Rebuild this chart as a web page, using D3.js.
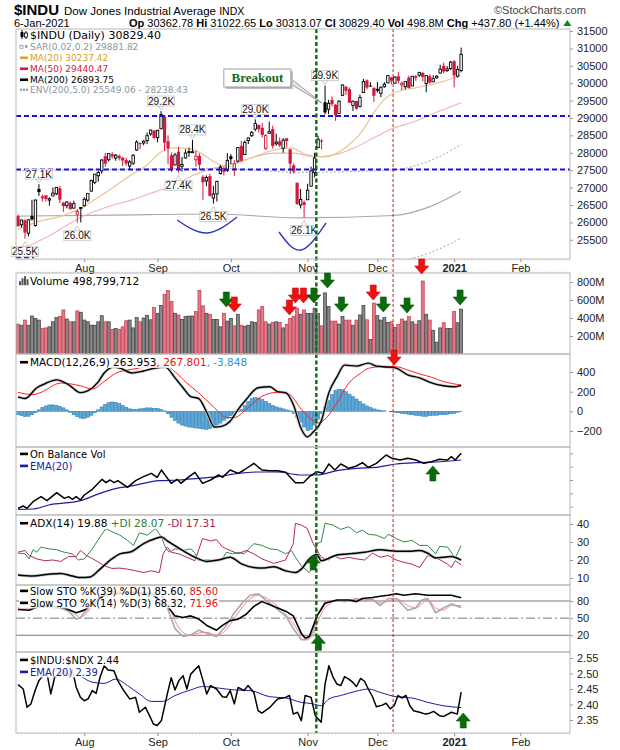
<!DOCTYPE html>
<html><head><meta charset="utf-8">
<script src="https://cdn.jsdelivr.net/npm/d3@7/dist/d3.min.js"></script>
<style>
html,body{margin:0;padding:0;background:#fff;}
svg{display:block;}
text{white-space:pre;}
</style></head>
<body>
<svg id="chart" width="620" height="750"></svg>
<script>
// ================= DATA =================
const monthDays = [
  ["2020-07",[7,8,9,10,13,14,15,16,17,20,21,22,23,24,27,28,29,30,31]],
  ["2020-08",[3,4,5,6,7,10,11,12,13,14,17,18,19,20,21,24,25,26,27,28,31]],
  ["2020-09",[1,2,3,4,8,9,10,11,14,15,16,17,18,21,22,23,24,25,28,29,30]],
  ["2020-10",[1,2,5,6,7,8,9,12,13,14,15,16,19,20,21,22,23,26,27,28,29,30]],
  ["2020-11",[2,3,4,5,6,9,10,11,12,13,16,17,18,19,20,23,24,25,27,30]],
  ["2020-12",[1,2,3,4,7,8,9,10,11,14,15,16,17,18,21,22,23,24,28,29,30,31]],
  ["2021-01",[4,5,6]]
];
const dates = monthDays.flatMap(([m,ds])=>ds.map(d=>m+"-"+String(d).padStart(2,"0")));

const opens = [26180,25930,26060,25690,26180,25910,26960,26720,26780,26640,26760,26820,26980,26560,26480,26560,26410,26240,26420,
26480,26640,26900,27150,27340,27480,27900,27800,27960,27850,27910,27860,27790,27620,27700,28080,28280,28280,28350,28540,28640,
28440,28690,29040,28330,27930,27650,28030,27610,27850,28050,28030,27800,27910,27310,27190,27330,26700,26820,27400,27560,27500,
27900,27540,27760,28200,27950,28350,28490,28680,28800,28720,28130,28560,28680,28260,28330,28130,28420,28100,27640,27140,26500,26580,
26650,27040,27430,28150,28350,29450,29250,29520,29380,29130,29650,29900,29830,29360,29490,29330,29730,30080,29930,29870,
29800,29710,29900,30010,30170,30000,30200,29950,29900,30160,29920,30200,30230,30300,29990,30200,30040,30150,30290,30500,30360,30420,
30630,30200,30362.78];
const highs = [26230,26080,26090,26090,26650,26660,27100,26800,26780,26720,27000,27010,27050,26590,26610,26600,26620,26370,26440,
26720,26830,27230,27390,27480,27820,28000,27990,28020,27960,27950,27880,27860,27790,27960,28360,28300,28360,28580,28660,28650,
28660,29200,29040,28500,28010,28000,28170,27880,28100,28150,28370,28060,27980,27360,27350,27400,27050,27200,27650,27600,27990,
27960,27790,28160,28350,28350,28440,28630,28960,28810,28850,28530,28900,28780,28550,28440,28420,28420,28110,27690,27140,26960,26630,
27110,27600,28000,28490,28400,29930,29520,29620,29400,29510,29960,29920,29880,29500,29490,29670,30120,30110,30030,29870,
30030,29900,30030,30220,30170,30200,30320,30050,30060,30210,30200,30230,30330,30310,30230,30250,30230,30230,30530,30590,30490,30640,
30670,30500,31022.65];
const lows = [25880,25850,25530,25600,26050,25880,26760,26600,26600,26480,26760,26780,26560,26300,26400,26370,26400,25990,26000,
26450,26580,26880,27100,27170,27400,27600,27750,27830,27770,27780,27620,27630,27530,27650,28050,28100,28220,28250,28490,28400,
28300,28680,28050,27670,27450,27640,27430,27460,27840,27880,28000,27600,27500,26650,27040,26740,26540,26600,27380,27350,27450,
27670,27340,27720,27740,27940,28250,28460,28620,28580,28440,28080,28560,28120,28200,28170,28000,28150,27400,27400,26520,26400,26140,
26650,27040,27290,28150,28100,29100,29110,29330,28920,29120,29650,29660,29430,29200,29240,29300,29730,29820,29900,29460,
29730,29600,29870,30000,29960,29990,29990,29800,29820,29850,29920,30070,30180,30050,29740,29990,30040,30140,30280,30280,30330,30380,
29880,30160,30313.07];
const closes = [25890,26067,25706,26075,26085,26642,26870,26734,26672,26680,26840,27005,26652,26469,26584,26379,26539,26314,26428,
26664,26828,27201,27386,27433,27791,27687,27977,27896,27931,27844,27778,27692,27739,27930,28308,28249,28332,28492,28654,28430,
28645,29100,28292,28133,27501,27940,27535,27666,27993,27995,28032,27902,27657,27148,27288,26763,26815,27174,27584,27452,27782,
27817,27683,28149,27773,28303,28426,28587,28838,28680,28514,28494,28606,28196,28309,28211,28364,28336,27686,27464,26520,26660,26502,
26925,27481,27848,28390,28323,29158,29421,29398,29080,29480,29950,29784,29438,29483,29263,29591,30046,29873,29910,29638,
29824,29884,29970,30218,30070,30174,30068,29999,30046,29861,30200,30155,30304,30179,30216,30016,30129,30200,30404,30336,30409,30606,
30224,30391.60,30829.40];
// volume in millions of shares
const volumesM = [332,320,377,320,422,396,377,283,290,302,358,404,415,490,389,358,358,479,464,
377,358,320,320,358,426,358,358,272,283,275,302,370,377,290,404,358,400,430,380,517,
450,540,660,706,585,453,434,385,415,422,422,472,706,536,453,442,385,385,302,453,366,
396,313,442,320,309,320,358,351,490,528,358,332,351,358,351,290,328,396,420,509,442,490,
449,449,509,449,313,679,528,366,366,332,415,377,377,320,377,434,540,380,162,566,
426,377,404,351,358,294,328,389,366,415,358,332,370,811,442,377,264,132,290,347,283,283,
472,347,498.8];

// moving averages (by trading-day index)
const ma20Idx = [0,4.6,13.2,18.1,21.8,27.5,32.4,37,41,44.7,49.6,52.4,56.2,59.9,63.9,67.6,73.4,78.2,82.8,87.7,91.4,95.4,98.3,101.2,104,107.7,113.5,121.2,127];
const ma20Val = [25800,25980,26210,26410,26640,27020,27360,27650,28020,28140,28110,27990,27740,27590,27740,27880,28080,28140,27940,27880,27990,28280,28570,29030,29430,29720,29860,30030,30237];
const ma50Idx = [0,2.6,8.3,18.1,25.5,32.4,39,44.7,50.4,56.2,61.9,67.6,73.4,79.1,84.8,90.5,96.3,102,107.7,113.5,120.1,127];
const ma50Val = [25200,25300,25580,26150,26440,26640,26870,27070,27360,27560,27700,27880,27990,27990,27880,27940,28140,28430,28710,28890,29170,29440];
const ma200Idx = [0,27.5,56.2,80.8,107.7,118.3,127];
const ma200Val = [26180,26210,26240,26130,26200,26460,26894];
const envPct = 5.0;

// MACD (12,26,9)
const macdIdx = [0,2,5.4,7.7,11.1,14.5,17.9,20.1,23,24.7,27.5,29.2,32.6,36,39.4,42.2,45,47.3,49.5,51.8,54.1,56.3,58.6,60.8,63.1,65.4,68.8,72.2,74.4,76.7,78.9,81.2,82.9,84.6,86.9,89.1,91.4,93.6,97,100.4,102.7,106.1,108.4,111.7,115.1,118.5,121.9,125.3,127];
const macdVal = [147,130,240,280,320,270,190,210,300,390,450,440,390,410,440,450,340,240,150,130,-10,-160,-150,-100,20,120,240,250,200,190,70,-180,-260,-210,-100,190,350,470,460,490,460,450,440,370,340,290,260,250,264];
const signalIdx = [0,4.3,6.6,12.2,17.9,21.3,24.7,28,32.6,37.1,42.2,45,48.4,51.8,56.3,59.7,62,65.4,69.9,74.4,77.8,81.2,84.6,85.7,88,91.4,94.8,98.2,100.4,103.8,108.4,111.7,115.1,118.5,121.9,127];
const signalVal = [193,170,193,287,260,227,303,387,427,453,470,403,287,187,37,-63,-63,20,153,193,170,20,-97,-120,-80,87,287,387,437,453,453,420,380,347,303,268];
const macdHist = [-35,-45,-55,-50,-35,-15,
15,40,55,65,65,60,50,35,
15,-10,-35,-55,-70,-72,-60,-40,-15,
15,45,70,88,95,92,80,60,40,
25,20,20,25,30,35,35,30,30,20,5,
-25,-60,-95,-120,-140,-150,-160,-165,-170,-175,-180,-185,-175,-160,
-140,-120,-95,-70,-45,-20,-5,
20,60,100,130,140,135,120,100,80,60,
45,35,25,15,5,
-20,-60,-110,-160,-195,-185,-140,-80,-20,40,
110,170,215,225,220,200,175,150,
125,100,75,55,40,25,15,10,
5,0,-5,-10,-15,-20,
-25,-30,-35,-40,-45,-50,-50,-45,-40,-40,-35,-35,-30,-25,-20,-10,-4];

// On Balance Volume (relative units) and its EMA(20)
const obvIdx = [0,1.5,2.6,4.3,6.6,8.3,11.1,13.3,14.5,15.6,16.7,17.9,19,21.3,24.1,25.2,26.4,27.5,28.6,31.4,33.7,36,38.2,39.9,41.1,43.9,45.6,46.7,48.4,50.7,52.9,55.2,57.5,58.6,60.8,63.1,64.8,67.6,69.9,72.2,74.4,76.7,79.5,81.8,83.5,85.7,87.4,89.1,90.8,92.5,94.8,97,98.7,100.4,102.7,105.5,107.2,109.5,111.7,114,116.3,118.5,120.8,123.1,124.2,125.3,127];
const obvVal = [15,22,15,35,50,38,62,45,50,42,50,40,55,72,102,92,100,92,98,78,98,110,120,108,130,90,102,90,105,123,90,100,115,108,130,120,130,150,130,128,128,123,92,92,110,125,120,148,130,148,135,142,152,138,150,175,165,160,165,160,150,155,162,160,170,160,180];
const obvEmaIdx = [0,4.3,8.8,17.9,23.5,29.2,31.4,40.5,46.1,51.8,57.5,63.1,68.8,74.4,81.2,85.7,91.4,97,102.7,108.4,114,119.7,127];
const obvEmaVal = [12,13,25,38,60,77,80,98,100,105,110,120,124,124,115,115,128,135,138,148,152,154,160];
const obvTicks = [20,60,100,140,180];

// ADX(14), +DI, -DI
const adxIdx = [0,4.3,8.8,12.2,15.6,17.9,20.7,23.5,26.9,29.2,32.6,36,39.4,41.1,42.8,46.1,50.7,54.1,57.5,60.8,64.2,67.6,69.9,73.3,76.7,79.5,81.2,83.5,85.7,86.9,91.4,94.8,99.3,103.8,108.4,112.9,115.1,117.4,119.7,121.9,124.2,127];
const adxVal = [11.7,11.1,12.1,12.5,11.1,10.2,10.6,14.9,20.6,23.4,24.7,29.1,31.9,32.8,30.6,26.6,21.5,19.2,20,21.5,17.7,15.8,15.5,16.2,14,13,14.9,20.6,23,19.6,22.8,23.4,24.3,25.7,24.9,24.9,25.3,23.8,21.1,21.5,21.9,19.88];
const pdiIdx = [0,2,3.2,4.3,5.4,6.6,8.8,11.1,13.3,15.6,17.3,19,21.3,23.5,25.2,26.9,29.2,31.4,33.1,34.8,37.1,39.4,41.1,42.2,43.3,45,47.3,49.5,50.7,51.8,54.1,56.9,58.6,59.7,61.4,63.1,64.8,67.6,69.9,72.2,74.4,76.7,78.4,79.5,81.2,83.5,84.6,85.7,86.9,88,90.3,92.5,94.8,97,98.7,100.4,102.7,105,106.1,108.4,110.6,112.9,115.1,117.4,119.7,120.8,123.1,125.3,127];
const pdiVal = [23.8,23.4,20.6,25.7,24.3,27.2,26.2,25.7,24.3,23.4,20,20.6,26.2,32.8,37.5,35.7,33.8,30.9,28.1,35.1,33.8,37.5,32.8,27.2,24.3,26.2,25.3,26.2,23.8,19.6,20,19.6,20.6,24.3,23.4,24.3,23.4,29.1,28.1,26.2,25.7,23.4,25.3,21.5,16.8,13,16.8,29.1,30,40.4,39.4,37,38.5,35.1,36.6,34.3,33.8,31.9,34.3,31.9,30,30.9,28.1,28.1,23.4,27.5,27.2,21.1,28.07];
const mdiIdx = [0,2,3.2,5.4,7.7,10,12.2,14.5,16.7,17.9,19.6,22.4,24.7,26.9,29.2,31.4,33.7,36,38.2,40.5,41.6,42.8,43.9,46.1,48.4,50.7,52.9,55.2,56.9,58.6,60.8,63.1,65.4,67.6,69.9,73.3,76.7,78.9,79.5,81.2,82.9,84.6,86.9,89.1,90.3,92.5,94.8,97,99.3,101.6,103.8,106.1,108.4,110.6,112.9,115.1,117.4,119.7,123.1,124.2,125.3,127];
const mdiVal = [24.3,25.3,22.5,20.6,19.6,20,19.2,21.9,21.9,25.3,22.5,19.6,16.8,15.3,15.5,14.9,14,13,14,13,23.4,27.2,24.3,23.4,21.5,19.6,31.9,30.6,31.3,27.2,25.3,23.4,25.3,23.4,20.6,18.1,20,29.1,40.4,39.4,37.5,29.1,21.5,20,22.5,20.6,21.5,20.6,20,23.8,21.5,22.5,20,18.7,17.7,15.8,22.5,21.5,17.7,15.8,19.6,17.31];

// Slow stochastics
const stoLongIdx = [0,3.2,6,10,13.3,16.7,19,24.7,31.4,38.2,42.8,45,47.3,49.5,51.8,54.1,56.9,58.6,60.8,63.1,65.4,67.6,69.9,72.2,74.4,76.7,78.9,81.2,82.3,83.5,85.7,88,91.4,94.8,97,98.7,101.6,103.8,106.1,108.4,110.6,114,117.4,120.8,124.2,127];
const stoLongK = [65,63.9,70.6,70.6,67.8,59.4,64,90,95,93,70.6,53.9,51.1,53.9,48.3,37.2,28.9,37.2,45.6,48.3,56.7,70.6,78.9,73.3,67.8,62.2,53.9,23.3,15,17.8,53.9,76.1,81.7,81.7,78.9,84.4,86.1,88.3,90,92.8,90,92.8,90,90,90,85.6];
const stoIdx = [0,2,4.3,6.6,12.2,14.5,16.7,17.9,19,24.7,31.4,38.2,42.8,45,47.3,49.5,51.8,54.1,56.9,59.7,62,64.2,66.5,68.8,71,73.3,75.6,76.7,78.9,81.2,82.9,84.6,85.7,88,91.4,93.6,97,99.3,101.6,103.8,106.1,108.4,111.7,114,115.7,117.4,119.7,121.9,124.2,127];
const stoK = [67.8,66.1,67.8,70.6,67.8,62.2,48.3,51.1,59.4,95,97,95,67.8,31.7,17.8,20.6,28.9,23.3,17.8,37.2,59.4,76.1,90,92.8,81.7,70.6,59.4,53.9,31.7,12.2,12.2,26.1,53.9,78.9,80.6,78.9,84.4,80.6,82.8,71.7,84.4,84.4,63.9,67.8,81.7,84.4,59.4,67.8,75,68.32];
const stoD = [68,67,67,69,69,65,55,50,55,92,96,96,78,45,25,20,24,25,20,30,50,68,84,90,86,76,64,57,40,20,14,20,40,68,80,80,82,82,82,76,80,84,72,68,75,82,68,64,72,71.96];
const stoLevels = [80,50,20];

// $INDU:$NDX ratio and EMA(20)
const ratioIdx = [0,1.5,2.6,3.7,4.9,6,7.1,8.3,9.4,10.5,12.2,13.3,14.5,15.6,16.7,17.9,19,20.1,21.3,22.4,23.5,24.7,25.8,27.5,28.6,30.3,32,33.7,34.8,36.5,37.7,38.8,39.9,41.1,42.8,43.9,45,46.1,47.3,48.4,49.5,51.8,52.9,54.1,55.2,56.9,58.6,59.7,60.8,62,63.1,64.8,65.9,67.6,68.8,69.9,72.2,74.4,76.7,77.8,78.9,80.1,81.2,82.3,84,85.2,86.9,88,89.1,90.3,91.4,92.5,93.6,94.8,95.9,97,98.2,99.3,100.4,101.6,102.7,104.4,105.5,106.7,107.8,108.9,110,111.2,112.3,113.4,115.1,116.8,118,119.1,120.8,121.9,124.2,125.9,127];
const ratioVal = [2.464,2.450,2.391,2.402,2.445,2.477,2.493,2.501,2.434,2.488,2.498,2.507,2.493,2.511,2.455,2.423,2.412,2.418,2.445,2.436,2.488,2.525,2.511,2.509,2.477,2.445,2.418,2.423,2.375,2.391,2.364,2.337,2.332,2.348,2.434,2.486,2.447,2.477,2.493,2.450,2.498,2.525,2.482,2.434,2.461,2.450,2.425,2.423,2.445,2.402,2.455,2.445,2.461,2.439,2.380,2.372,2.391,2.418,2.423,2.429,2.369,2.375,2.348,2.429,2.423,2.364,2.343,2.466,2.525,2.488,2.466,2.461,2.490,2.482,2.472,2.458,2.484,2.475,2.450,2.425,2.393,2.398,2.404,2.386,2.396,2.429,2.421,2.429,2.396,2.380,2.375,2.369,2.372,2.378,2.364,2.361,2.375,2.369,2.44];
const ratioEmaIdx = [17.9,21.3,24.7,28,31.4,34.8,38.2,41.6,45,49.5,52.9,57.5,62,66.5,72.2,76.7,81.2,84.6,86.9,89.1,92.5,97,100.4,103.8,108.4,112.9,117.4,121.9,127];
const ratioEmaVal = [2.493,2.472,2.468,2.482,2.461,2.434,2.410,2.410,2.429,2.447,2.458,2.453,2.447,2.445,2.425,2.421,2.407,2.402,2.396,2.418,2.429,2.443,2.450,2.439,2.425,2.421,2.407,2.396,2.39];

// axes
const monthLabels = ["Aug","Sep","Oct","Nov","Dec","2021","Feb"];
const monthStartIdx = [19,40,61,83,103,125,144];
const priceTicks = [25500,26000,26500,27000,27500,28000,28500,29000,29500,30000,30500,31000,31500];
const volTicks = [200,400,600,800];
const macdTicks = [-200,0,200,400];
const adxTicks = [10,20,30,40];
const ratioTicks = [2.35,2.40,2.45,2.50,2.55];

// annotations (in data units)
const supportLevels = [29060,27520];
const breakoutDayIdx = 85.5, signalDayIdx = 107.5;
const hlIdx  = [41,50,68,6,88,46,56,17,2,82];
const hlSide = ["high","high","high","high","high","low","low","low","low","low"];
const arc1 = [[45.6,26069],[54.2,25695],[62.8,26155]];
const arc2 = [[74.8,25724],[81.1,25207],[88.3,25983]];
const volArrowIdx = [59.7,62.0,77.8,79.5,81.8,84.8,88.7,92.7,101.8,104.7,111.5,115.7,126.7];
const volArrowTip = [522,467,433,567,567,567,733,467,600,467,456,889,544];
const volArrowDir = ["g","r","r","r","r","g","g","g","r","g","g","r","g"];

// ================= DRAW =================
const svg = d3.select("#chart");
const X_LEFT=16, X_RIGHT=570;
const x = d3.scaleLinear().domain([-0.573,158.2]).range([X_LEFT,X_RIGHT]);
const P = {price:[29,259], vol:[273,354], macd:[354,447], obv:[447,515], adx:[515,585], sto:[585,652], ratio:[652,733]};
const yP = d3.scaleLinear().domain([24948,31557]).range([259,29]);
const yV = d3.scaleLinear().domain([0,900]).range([354,273]);
const yM = d3.scaleLinear().domain([-363,583]).range([447,354]);
const yO = d3.scaleLinear().domain([-5,199]).range([515,447]);
const yA = d3.scaleLinear().domain([6.1,45]).range([585,515]);
const yS = d3.scaleLinear().domain([-9.3,108]).range([652,585]);
const yR = d3.scaleLinear().domain([2.308,2.5694]).range([733,652]);

const RED="#d3173d", GREEN_ARROW="#0b6a0b", RED_ARROW="#ee1111", NAVY="#1c1ca0";
const LEG_FONT="DejaVu Sans, Verdana, sans-serif", AX_FONT="Liberation Sans, Arial, sans-serif";

svg.append("rect").attr("width",620).attr("height",750).attr("fill","#fff");
const defs = svg.append("defs");
Object.entries(P).forEach(([k,[t,b]])=>{
  defs.append("clipPath").attr("id","clip-"+k).append("rect")
    .attr("x",X_LEFT).attr("y",t).attr("width",X_RIGHT-X_LEFT).attr("height",b-t);
});
const panel = k => svg.append("g").attr("clip-path",`url(#clip-${k})`);
const pairs = (idx,vals)=>idx.map((d,k)=>[d,vals[k]]);
function drawLine(g, data, ys, color, w, opts={}){
  const line = d3.line().x(d=>x(d[0])).y(d=>ys(d[1])).curve(opts.curve||d3.curveLinear);
  const p = g.append("path").datum(data).attr("d",line).attr("fill","none")
    .attr("stroke",color).attr("stroke-width",w).attr("stroke-linejoin","round");
  if(opts.dash) p.attr("stroke-dasharray",opts.dash);
  return p;
}
function rightAxis(scale, ticks, fmt){
  const g = svg.append("g").attr("transform",`translate(${X_RIGHT},0)`)
    .call(d3.axisRight(scale).tickValues(ticks).tickSize(3).tickPadding(4).tickFormat(fmt));
  g.select(".domain").remove();
  g.attr("font-family",AX_FONT).attr("font-size",11);
  g.selectAll("text").attr("fill","#222");
  g.selectAll("line").attr("stroke","#999");
}
function dateAxis(yPos){
  const g = svg.append("g").attr("transform",`translate(0,${yPos})`)
    .call(d3.axisBottom(x).tickValues(monthStartIdx).tickSize(3).tickPadding(2)
      .tickFormat((d,k)=>monthLabels[k]));
  g.select(".domain").remove();
  g.attr("font-family",AX_FONT).attr("font-size",11);
  g.selectAll("text").attr("fill","#222").attr("font-weight",(d,k)=>monthLabels[k]==="2021"?"bold":"normal");
  g.selectAll("line").attr("stroke","#888");
  svg.append("g").selectAll("line").data(d3.range(0,159)).join("line")
    .attr("x1",d=>x(d)).attr("x2",d=>x(d)).attr("y1",yPos).attr("y2",yPos+1.5)
    .attr("stroke","#bbb").attr("stroke-width",0.6);
}
function legend(xText, yBase, parts, size, icon){
  const g = svg.append("g");
  const t = g.append("text").attr("x",xText).attr("y",yBase)
    .attr("font-family",LEG_FONT).attr("font-size",size);
  parts.forEach(([s,c])=>t.append("tspan").attr("fill",c).text(s));
  const bb = t.node().getBBox();
  g.insert("rect","text").attr("x",bb.x-11).attr("y",bb.y+1).attr("width",bb.width+12).attr("height",bb.height-1)
    .attr("fill","#fff").attr("opacity",0.85);
  const cy = yBase - size*0.36;
  if(icon==="line") g.append("rect").attr("x",xText-10).attr("y",cy-1.3).attr("width",8).attr("height",2.6).attr("fill",parts[0][1]);
  return {g, cy};
}
function arrow(cx, tipY, dir, color){
  const sw=3, hw=7, sl=7, hl=8;
  let pts;
  if(dir==="down"){
    const t=tipY-hl-sl;
    pts=[[cx-sw,t],[cx+sw,t],[cx+sw,t+sl],[cx+hw,t+sl],[cx,tipY],[cx-hw,t+sl],[cx-sw,t+sl]];
  } else {
    const t=tipY;
    pts=[[cx,t],[cx+hw,t+hl],[cx+sw,t+hl],[cx+sw,t+hl+sl],[cx-sw,t+hl+sl],[cx-sw,t+hl],[cx-hw,t+hl]];
  }
  svg.append("polygon").attr("points",pts.map(p=>p.join(",")).join(" "))
    .attr("fill",color).attr("stroke",d3.color(color).darker(0.6)).attr("stroke-width",0.6);
}

// ---------- header ----------
svg.append("text").attr("x",14).attr("y",15).attr("font-family",AX_FONT).attr("font-size",15).attr("font-weight","bold").text("$INDU");
svg.append("text").attr("x",64).attr("y",15).attr("font-family",AX_FONT).attr("font-size",11.5).text("Dow Jones Industrial Average ")
  .append("tspan").attr("font-size",10.5).text("INDX");
svg.append("text").attr("x",494).attr("y",14).attr("font-family",AX_FONT).attr("font-size",11).attr("fill","#444").text("©StockCharts.com");
svg.append("text").attr("x",14).attr("y",27).attr("font-family",AX_FONT).attr("font-size",11).text("6-Jan-2021");
{
  const last = closes.length-1;
  const chg = closes[last]-closes[last-1];
  const t = svg.append("text").attr("x",129).attr("y",27).attr("font-family",AX_FONT).attr("font-size",11);
  const seg = [["Op",true],[" "+opens[last].toFixed(2)+" ",false],["Hi",true],[" "+highs[last].toFixed(2)+" ",false],
    ["Lo",true],[" "+lows[last].toFixed(2)+" ",false],["Cl",true],[" "+closes[last].toFixed(2)+" ",false],
    ["Vol",true],[" "+volumesM[last].toFixed(1)+"M ",false],["Chg",true],[" +"+chg.toFixed(2)+" (+"+(chg/closes[last-1]*100).toFixed(2)+"%)",false]];
  seg.forEach(([s,b])=>t.append("tspan").attr("font-weight",b?"bold":"normal").text(s));
  const bb=t.node().getBBox();
  const tx=bb.x+bb.width+4;
  svg.append("polygon").attr("points",`${tx},26 ${tx+8},26 ${tx+4},20`).attr("fill","#0a8a0a");
}

// ---------- panel backgrounds ----------
Object.values(P).forEach(([t,b])=>svg.append("rect").attr("x",X_LEFT).attr("y",t).attr("width",X_RIGHT-X_LEFT).attr("height",b-t).attr("fill","#fff"));

// ---------- price panel ----------
const gPrice = panel("price");
drawLine(gPrice, pairs(ma200Idx,ma200Val.map(v=>v*(1+envPct/100))), yP, "#b4b4b4", 1.1, {curve:d3.curveMonotoneX, dash:"2,2"});
drawLine(gPrice, pairs(ma200Idx,ma200Val.map(v=>v*(1-envPct/100))), yP, "#b4b4b4", 1.1, {curve:d3.curveMonotoneX, dash:"2,2"});
drawLine(gPrice, pairs(ma200Idx,ma200Val), yP, "#a9a9a9", 1.1, {curve:d3.curveMonotoneX});
drawLine(gPrice, pairs(ma50Idx,ma50Val), yP, "#f2b3b8", 1.1, {curve:d3.curveMonotoneX});
drawLine(gPrice, pairs(ma20Idx,ma20Val), yP, "#eec48e", 1.2, {curve:d3.curveMonotoneX});

const candles = dates.map((d,i)=>({i,o:opens[i],h:highs[i],l:lows[i],c:closes[i],pc:i>0?closes[i-1]:opens[i]}));
const ccol = d=> d.c>=d.pc ? "#000" : RED;
gPrice.selectAll("line.wick").data(candles).join("line").attr("class","wick")
  .attr("x1",d=>x(d.i)).attr("x2",d=>x(d.i)).attr("y1",d=>yP(d.h)).attr("y2",d=>yP(d.l))
  .attr("stroke",ccol).attr("stroke-width",1);
gPrice.selectAll("rect.body").data(candles).join("rect").attr("class","body")
  .attr("x",d=> d.c>=d.o ? x(d.i)-1.2 : x(d.i)-1.6)
  .attr("width",d=> d.c>=d.o ? 2.4 : 3.2)
  .attr("y",d=>yP(Math.max(d.o,d.c)))
  .attr("height",d=>Math.max(1,Math.abs(yP(d.o)-yP(d.c))))
  .attr("fill",d=> d.c>=d.o ? "#fff" : ccol(d))
  .attr("stroke",d=> d.c>=d.o ? ccol(d) : "none").attr("stroke-width",0.9);

// support / resistance dashed lines
gPrice.selectAll("line.lvl").data(supportLevels).join("line").attr("class","lvl")
  .attr("x1",X_LEFT).attr("x2",X_RIGHT).attr("y1",d=>yP(d)).attr("y2",d=>yP(d))
  .attr("stroke","#1515d0").attr("stroke-width",2).attr("stroke-dasharray","5,3");
gPrice.append("line").attr("x1",X_LEFT).attr("x2",x(4.6)).attr("y1",yP(25000)).attr("y2",yP(25000))
  .attr("stroke","#1515d0").attr("stroke-width",2).attr("stroke-dasharray","5,3");

// rounded-bottom arcs
[arc1,arc2].forEach(a=>drawLine(gPrice, a, yP, "#2a36b8", 1.4, {curve:d3.curveNatural}));

// high/low labels
hlIdx.forEach((i,k)=>{
  const isHigh = hlSide[k]==="high";
  const v = isHigh ? highs[i] : lows[i];
  const label = (v/1000).toFixed(1)+"K";
  const cx = x(i), w=27, h=10;
  const yb = isHigh ? yP(v)-5-h : yP(v)+8;
  const g = svg.append("g");
  const tri = isHigh ? `${cx-3},${yb+h} ${cx+3},${yb+h} ${cx},${yb+h+4}` : `${cx-3},${yb} ${cx+3},${yb} ${cx},${yb-5}`;
  g.append("polygon").attr("points",tri).attr("fill","#fff").attr("stroke","#bbb").attr("stroke-width",0.8);
  g.append("rect").attr("x",cx-w/2).attr("y",yb).attr("width",w).attr("height",h).attr("fill","#fff").attr("stroke","#c4c4c4").attr("stroke-width",0.8);
  g.append("text").attr("x",cx).attr("y",yb+h-1.5).attr("text-anchor","middle").attr("font-family",AX_FONT).attr("font-size",10).attr("fill","#111").text(label);
});

// Breakout callout
{
  const bx0=x(59), bx1=x(78.2), by0=yP(30408), by1=yP(29891);
  const tipX=x(87.1), tipY=yP(29431);
  svg.append("polygon").attr("points",`${bx1-2},${by0+8} ${bx1-2},${by0+14} ${tipX},${tipY}`)
    .attr("fill","#e4e4e4").attr("stroke","#8a8a8a").attr("stroke-width",0.8);
  svg.append("rect").attr("x",bx0+2).attr("y",by0+2).attr("width",bx1-bx0).attr("height",by1-by0).attr("fill","#bdbdbd");
  svg.append("rect").attr("x",bx0).attr("y",by0).attr("width",bx1-bx0).attr("height",by1-by0).attr("fill","#fff").attr("stroke","#8a8a8a").attr("stroke-width",0.8);
  svg.append("text").attr("x",(bx0+bx1)/2).attr("y",by1-5).attr("text-anchor","middle")
    .attr("font-family","Liberation Serif, Times New Roman, serif").attr("font-weight","bold").attr("font-size",13).attr("fill","#14691a").text("Breakout");
}

// ---------- volume ----------
const gVol = panel("vol");
gVol.selectAll("rect").data(candles).join("rect")
  .attr("x",d=>x(d.i)-1.5).attr("width",3)
  .attr("y",d=>yV(volumesM[d.i])).attr("height",d=>yV(0)-yV(volumesM[d.i]))
  .attr("fill",d=>d.c<d.pc?"#e07a86":"#878787")
  .attr("stroke",d=>d.c<d.pc?"#c03a52":"#3c3c3c").attr("stroke-width",0.7);

// ---------- MACD ----------
const gM = panel("macd");
gM.selectAll("rect").data(macdHist).join("rect")
  .attr("x",(d,i)=>x(i)-1.6).attr("width",3.2)
  .attr("y",d=>yM(Math.max(0,d))).attr("height",d=>Math.abs(yM(d)-yM(0)))
  .attr("fill","#5ea7d6").attr("stroke","#2d78ad").attr("stroke-width",0.5);
drawLine(gM, pairs(macdIdx,macdVal), yM, "#c8c8c8", 3, {curve:d3.curveMonotoneX});
drawLine(gM, pairs(signalIdx,signalVal), yM, "#ff2222", 1, {curve:d3.curveMonotoneX});
drawLine(gM, pairs(macdIdx,macdVal), yM, "#000", 1.4, {curve:d3.curveMonotoneX});

// ---------- OBV ----------
const gO = panel("obv");
drawLine(gO, pairs(obvEmaIdx,obvEmaVal), yO, NAVY, 1.2, {curve:d3.curveMonotoneX});
drawLine(gO, pairs(obvIdx,obvVal), yO, "#000", 1.5);

// ---------- ADX ----------
const gA = panel("adx");
drawLine(gA, pairs(pdiIdx,pdiVal), yA, "#2f8a48", 1);
drawLine(gA, pairs(mdiIdx,mdiVal), yA, "#b02a55", 1);
drawLine(gA, pairs(adxIdx,adxVal), yA, "#c8c8c8", 3, {curve:d3.curveMonotoneX});
drawLine(gA, pairs(adxIdx,adxVal), yA, "#000", 1.5, {curve:d3.curveMonotoneX});

// ---------- STO ----------
const gS = panel("sto");
gS.selectAll("line.lvl").data(stoLevels).join("line").attr("class","lvl")
  .attr("x1",X_LEFT).attr("x2",X_RIGHT).attr("y1",d=>yS(d)).attr("y2",d=>yS(d))
  .attr("stroke","#777").attr("stroke-width",1).attr("stroke-dasharray",d=>d===50?"9,3,2,3":null);
drawLine(gS, pairs(stoIdx,stoK), yS, "#a9a9a9", 1.6);
drawLine(gS, pairs(stoIdx,stoD), yS, "#f08a8a", 1, {curve:d3.curveMonotoneX});
drawLine(gS, pairs(stoLongIdx,stoLongK), yS, "#000", 1.6);

// ---------- ratio ----------
const gR = panel("ratio");
drawLine(gR, pairs(ratioEmaIdx,ratioEmaVal), yR, NAVY, 1, {curve:d3.curveMonotoneX});
drawLine(gR, pairs(ratioIdx,ratioVal), yR, "#000", 1.5);

// ---------- vertical marker lines ----------
svg.append("line").attr("x1",x(signalDayIdx)).attr("x2",x(signalDayIdx)).attr("y1",P.price[0]).attr("y2",P.ratio[1])
  .attr("stroke","#e01010").attr("stroke-width",1).attr("stroke-dasharray","3,2");
svg.append("line").attr("x1",x(breakoutDayIdx)).attr("x2",x(breakoutDayIdx)).attr("y1",P.price[0]).attr("y2",P.ratio[1])
  .attr("stroke","#0b6b0b").attr("stroke-width",2.4).attr("stroke-dasharray","4,2.5");

// ---------- panel borders ----------
Object.values(P).forEach(([t,b])=>svg.append("rect").attr("x",X_LEFT).attr("y",t).attr("width",X_RIGHT-X_LEFT).attr("height",b-t)
  .attr("fill","none").attr("stroke","#b8b8b8").attr("stroke-width",1));

// ---------- axes ----------
rightAxis(yP, priceTicks, d3.format("d"));
rightAxis(yV, volTicks, d=>d+"M");
rightAxis(yM, macdTicks, d3.format("d"));
rightAxis(yO, obvTicks, ()=>"");
rightAxis(yA, adxTicks, d3.format("d"));
rightAxis(yS, stoLevels, d3.format("d"));
rightAxis(yR, ratioTicks, d3.format(".2f"));
dateAxis(P.price[1]);
dateAxis(P.ratio[1]);
svg.append("g").selectAll("line").data(d3.range(0,159)).join("line")
  .attr("x1",d=>x(d)).attr("x2",d=>x(d)).attr("y1",P.vol[0]-1.5).attr("y2",P.vol[0])
  .attr("stroke","#bbb").attr("stroke-width",0.6);

// ---------- arrows ----------
volArrowIdx.forEach((i,k)=>arrow(x(i), yV(volArrowTip[k]), "down", volArrowDir[k]==="g"?GREEN_ARROW:RED_ARROW));
arrow(x(107.8), yM(470), "down", RED_ARROW);
arrow(x(118.9), yO(142), "up", GREEN_ARROW);
arrow(x(84.6), yA(22.8), "up", GREEN_ARROW);
arrow(x(86.1), yS(20), "up", GREEN_ARROW);
arrow(x(127.6), yR(2.3726), "up", GREEN_ARROW);

// ---------- legends ----------
{
  const last = closes.length-1;
  const l1 = legend(30, 39, [["$INDU (Daily) "+closes[last].toFixed(2),"#000"]], 11);
  l1.g.append("line").attr("x1",22).attr("x2",22).attr("y1",l1.cy-5).attr("y2",l1.cy+4).attr("stroke","#000");
  l1.g.append("rect").attr("x",20.5).attr("y",l1.cy-3).attr("width",3).attr("height",5).attr("fill","#000");
  l1.g.append("line").attr("x1",26).attr("x2",26).attr("y1",l1.cy-4).attr("y2",l1.cy+4).attr("stroke","#000");
  l1.g.append("rect").attr("x",24.5).attr("y",l1.cy-2).attr("width",3).attr("height",4).attr("fill","#fff").attr("stroke","#000").attr("stroke-width",0.8);
  const l2 = legend(30, 50, [["SAR(0.02,0.2) 29881.82","#8896a2"]], 9);
  l2.g.append("rect").attr("x",20).attr("y",l2.cy-1.5).attr("width",3).attr("height",3).attr("fill","none").attr("stroke","#8896a2").attr("stroke-width",0.8);
  l2.g.append("rect").attr("x",25).attr("y",l2.cy-1.5).attr("width",2.5).attr("height",2.5).attr("fill","#8896a2");
  legend(30, 61, [["MA(20) 30237.42","#d9a02b"]], 9, "line");
  legend(30, 72, [["MA(50) 29440.47","#d6173f"]], 9, "line");
  legend(30, 83, [["MA(200) 26893.75","#000"]], 9, "line");
  const l6 = legend(30, 93, [["ENV(200,5.0) 25549.06 - 28238.43","#8896a2"]], 9);
  [20,23,26].forEach(xx=>l6.g.append("rect").attr("x",xx).attr("y",l6.cy-1).attr("width",2).attr("height",2).attr("fill","#8896a2"));

  const lv = legend(30, 285, [["Volume "+d3.format(",")(498799712),"#000"]], 10.5);
  [[19,4],[21.5,7],[24,9],[26.5,6]].forEach(([xx,h])=>lv.g.append("rect").attr("x",xx).attr("y",lv.cy+4-h).attr("width",2).attr("height",h).attr("fill","#555"));
  legend(30, 366, [["MACD(12,26,9) 263.953","#000"],[", 267.801","#e81010"],[", -3.848","#3b8fc6"]], 10.5, "line");
  legend(30, 457.5, [["On Balance Vol","#000"]], 10, "line");
  legend(30, 469.5, [["EMA(20)",NAVY]], 10, "line");
  legend(30, 527, [["ADX(14) 19.88","#000"],[" +DI 28.07","#2b7d3a"],[" -DI 17.31","#a8234a"]], 10.5, "line");
  legend(30, 594.5, [["Slow STO %K(39) %D(1) 85.60, ","#000"],["85.60","#e81010"]], 10, "line");
  legend(30, 606.5, [["Slow STO %K(14) %D(3) 68.32, ","#000"],["71.96","#e81010"]], 10, "line");
  legend(30, 663.5, [["$INDU:$NDX 2.44","#000"]], 10, "line");
  legend(30, 675.5, [["EMA(20) 2.39",NAVY]], 10, "line");
}
</script>
</body></html>
